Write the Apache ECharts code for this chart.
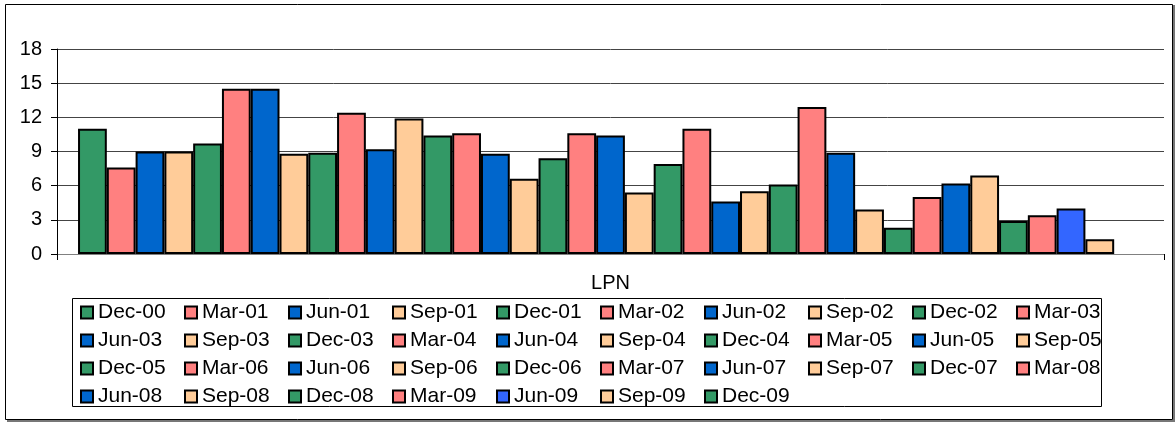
<!DOCTYPE html>
<html>
<head>
<meta charset="utf-8">
<script src="https://cdn.jsdelivr.net/npm/echarts@6/dist/echarts.min.js"></script>
<style>
html, body { margin: 0; padding: 0; background: #fff; }
#chart { width: 1176px; height: 423px; }
</style>
</head>
<body>
<div id="chart"></div>
<script>
// one category, one series per quarter
var categories = ['LPN'];
var quarters = ['Dec-00','Mar-01','Jun-01','Sep-01','Dec-01','Mar-02','Jun-02','Sep-02','Dec-02','Mar-03',
    'Jun-03','Sep-03','Dec-03','Mar-04','Jun-04','Sep-04','Dec-04','Mar-05','Jun-05','Sep-05',
    'Dec-05','Mar-06','Jun-06','Sep-06','Dec-06','Mar-07','Jun-07','Sep-07','Dec-07','Mar-08',
    'Jun-08','Sep-08','Dec-08','Mar-09','Jun-09','Sep-09','Dec-09'];
var values = [11.0, 7.6, 9.0, 9.0, 9.7, 14.5, 14.5, 8.8, 8.9, 12.4,
    9.2, 11.9, 10.4, 10.6, 8.8, 6.6, 8.4, 10.6, 10.4, 5.4,
    7.9, 11.0, 4.6, 5.5, 6.1, 12.9, 8.9, 3.9, 2.3, 5.0,
    6.2, 6.9, 2.9, 3.4, 4.0, 1.3, null];
var yTicks = [0, 3, 6, 9, 12, 15, 18];

var palette = ['#339966', '#FF8080', '#0066CC', '#FFCC99'];
var font = 'Liberation Sans, Arial, sans-serif';

var colors = [];
var series = [];
for (var i = 0; i < quarters.length; i++) {
    var c = palette[i % 4];
    if (quarters[i] == 'Jun-09') {
        c = '#3366FF';
    }
    colors.push(c);
    series.push({
        name: quarters[i],
        type: 'bar',
        data: [values[i]],
        barGap: '0%',
        barCategoryGap: '3.8%',
        itemStyle: { color: c, borderColor: '#000', borderWidth: 2 }
    });
}

var myChart = echarts.init(document.getElementById('chart'), null, { renderer: 'canvas' });
var option = {
    animation: false,
    color: colors,
    textStyle: { fontFamily: font },
    grid: { left: 57, right: 12, top: 49, bottom: 169 },
    xAxis: {
        type: 'category',
        data: categories,
        axisLine: { lineStyle: { color: '#808080', width: 1 } },
        axisTick: { show: true, length: 6, lineStyle: { color: '#000' } },
        axisLabel: { color: '#000', fontSize: 20, fontFamily: font, margin: 19 }
    },
    yAxis: {
        type: 'value',
        min: yTicks[0],
        max: yTicks[yTicks.length - 1],
        interval: 3,
        axisLine: { show: true, lineStyle: { color: '#000', width: 1 } },
        axisTick: { show: true, length: 6, lineStyle: { color: '#000' } },
        axisLabel: { color: '#000', fontSize: 20, fontFamily: font, margin: 15 },
        splitLine: { lineStyle: { color: '#444', width: 1 } }
    },
    legend: {
        left: 72,
        top: 298,
        width: 1040,
        orient: 'horizontal',
        icon: 'rect',
        itemWidth: 12,
        itemHeight: 12,
        itemGap: 7,
        padding: [4, 0, 4, 8],
        itemStyle: { borderColor: '#000', borderWidth: 2 },
        textStyle: { color: '#000', fontSize: 21, fontFamily: font, width: 79, lineHeight: 20 },
        data: quarters
    },
    graphic: [
        {
            // legend frame
            type: 'rect',
            silent: true,
            shape: { x: 72.5, y: 298.5, width: 1029, height: 108 },
            style: { fill: 'none', stroke: '#000', lineWidth: 1 }
        },
        {
            type: 'rect',
            silent: true,
            shape: { x: 5.5, y: 4.5, width: 1167, height: 415 },
            style: { fill: 'none', stroke: '#000', lineWidth: 1 }
        },
        {
            type: 'polyline',
            silent: true,
            shape: { points: [[1174, 5], [1174, 421], [7, 421]] },
            style: { fill: 'none', stroke: '#777', lineWidth: 2 }
        }
    ],
    series: series
};
myChart.setOption(option);
</script>
</body>
</html>
